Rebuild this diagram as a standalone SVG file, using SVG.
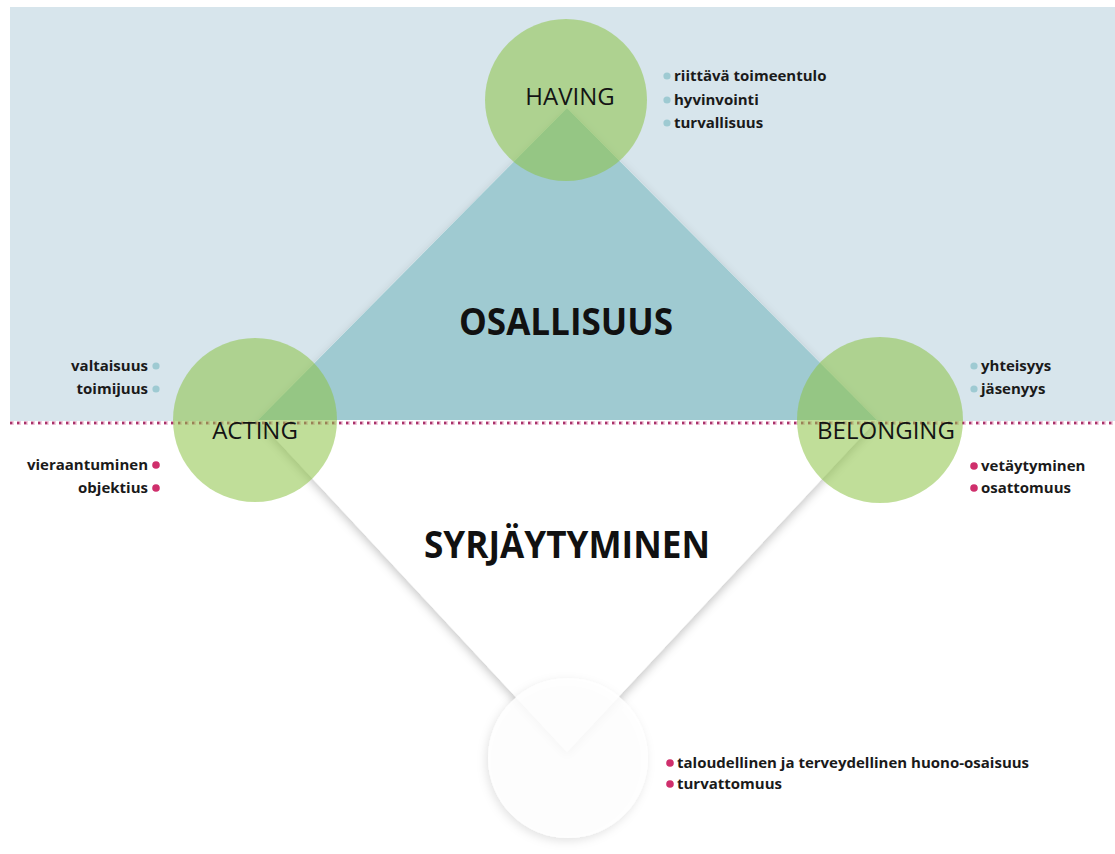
<svg xmlns="http://www.w3.org/2000/svg" width="1115" height="854" viewBox="0 0 1115 854">
  <defs>
    <filter id="shadow" x="-20%" y="-20%" width="140%" height="140%">
      <feDropShadow dx="0" dy="4" stdDeviation="5" flood-color="#000" flood-opacity="0.22"/>
    </filter>
    <filter id="softShadow" x="-20%" y="-20%" width="140%" height="140%">
      <feDropShadow dx="-2" dy="3" stdDeviation="5" flood-color="#000" flood-opacity="0.13"/>
    </filter>
    <style>
      .circle { fill: #8cc346; fill-opacity: 0.55; }
      .label { font-family: "Open Sans", "Noto Sans", sans-serif; font-size: 24px; font-weight: 500; fill: #141414; text-anchor: middle; }
      .big { font-family: "Open Sans", "Noto Sans", sans-serif; font-size: 38px; font-weight: 700; fill: #111; text-anchor: middle; }
      .item { font-family: "Open Sans", "Noto Sans", sans-serif; font-size: 15px; font-weight: 700; fill: #1a1a1a; }
      .right { text-anchor: end; }
      .dotB { fill: #9ecad2; }
      .dotM { fill: #cf2f6c; }
    </style>
  </defs>

  <!-- background -->
  <rect x="0" y="0" width="1115" height="854" fill="#ffffff"/>
  <rect x="10" y="7" width="1105" height="414" fill="#d7e5ec"/>

  <!-- diamond -->
  <g id="diamond">
    <polygon points="567,108 877,420 567,752 258,420" fill="#ffffff" filter="url(#shadow)"/>
    <polygon points="567,108 877,420 258,420" fill="#9fcad1"/>
  </g>

  <!-- dividing dotted line -->
  <g id="connectors">
    <line x1="10" y1="423" x2="1115" y2="423" stroke="#f3cfe0" stroke-width="4" stroke-dasharray="4 3"/>
    <line x1="10" y1="423" x2="1115" y2="423" stroke="#a8326a" stroke-width="2.4" stroke-dasharray="2.4 4.6"/>
  </g>

  <!-- bottom white circle -->
  <g id="node-bottom">
    <circle cx="568" cy="758" r="80" fill="#ffffff" fill-opacity="0.85" filter="url(#softShadow)"/>
  </g>

  <g id="node-having">
    <circle class="circle" cx="566" cy="100" r="81"/>
    <text class="label" x="570" y="105">HAVING</text>
  </g>

  <g id="node-acting">
    <circle class="circle" cx="255" cy="420" r="82"/>
    <text class="label" x="255" y="439">ACTING</text>
  </g>

  <g id="node-belonging">
    <circle class="circle" cx="880" cy="420" r="83"/>
    <text class="label" x="886" y="439">BELONGING</text>
  </g>

  <g id="title-osallisuus">
    <text class="big" x="566" y="335" textLength="214" lengthAdjust="spacingAndGlyphs">OSALLISUUS</text>
  </g>

  <g id="title-syrjaytyminen">
    <text class="big" x="567" y="558" textLength="286" lengthAdjust="spacingAndGlyphs">SYRJÄYTYMINEN</text>
  </g>

  <!-- having list -->
  <g id="list-having">
    <circle class="dotB" cx="667" cy="76" r="3.6"/>
    <circle class="dotB" cx="667" cy="100" r="3.6"/>
    <circle class="dotB" cx="667" cy="123" r="3.6"/>
    <text class="item" x="674" y="81">riittävä toimeentulo</text>
    <text class="item" x="674" y="105">hyvinvointi</text>
    <text class="item" x="674" y="128">turvallisuus</text>
  </g>

  <!-- acting lists -->
  <g id="list-acting">
    <circle class="dotB" cx="156" cy="366" r="3.6"/>
    <circle class="dotB" cx="156" cy="389" r="3.6"/>
    <text class="item right" x="148" y="371">valtaisuus</text>
    <text class="item right" x="148" y="394">toimijuus</text>
    <circle class="dotM" cx="156" cy="465" r="3.8"/>
    <circle class="dotM" cx="156" cy="488" r="3.8"/>
    <text class="item right" x="148" y="470">vieraantuminen</text>
    <text class="item right" x="148" y="493">objektius</text>
  </g>

  <!-- belonging lists -->
  <g id="list-belonging">
    <circle class="dotB" cx="974" cy="366" r="3.6"/>
    <circle class="dotB" cx="974" cy="389" r="3.6"/>
    <text class="item" x="981" y="371">yhteisyys</text>
    <text class="item" x="981" y="394">jäsenyys</text>
    <circle class="dotM" cx="974" cy="466" r="3.8"/>
    <circle class="dotM" cx="974" cy="488" r="3.8"/>
    <text class="item" x="981" y="471">vetäytyminen</text>
    <text class="item" x="981" y="493">osattomuus</text>
  </g>

  <!-- bottom list -->
  <g id="list-bottom">
    <circle class="dotM" cx="670" cy="763" r="3.8"/>
    <circle class="dotM" cx="670" cy="784" r="3.8"/>
    <text class="item" x="677" y="768">taloudellinen ja terveydellinen huono-osaisuus</text>
    <text class="item" x="677" y="789">turvattomuus</text>
  </g>
</svg>
